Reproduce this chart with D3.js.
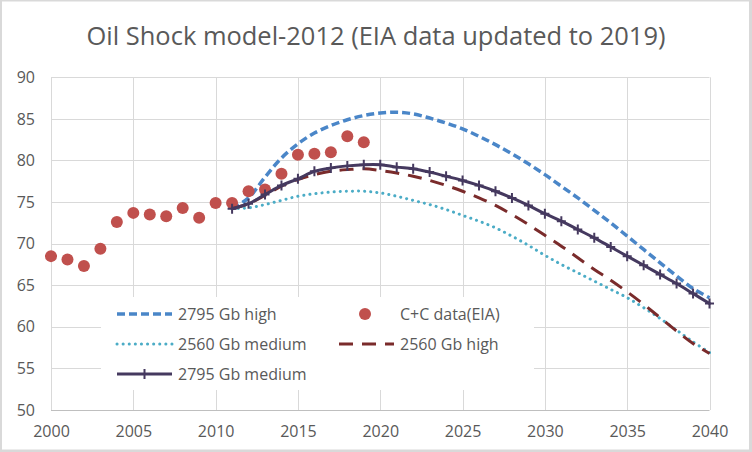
<!DOCTYPE html>
<html><head><meta charset="utf-8">
<script src="https://cdn.jsdelivr.net/npm/d3@7"></script>
<style>body{margin:0;background:#fff}svg{display:block}text{font-family:"Open Sans",sans-serif;fill:#595959}</style>
</head><body>
<svg id="c" width="752" height="452"></svg>
<script>
const title = "Oil Shock model-2012 (EIA data updated to 2019)";
const xTicks = [2000, 2005, 2010, 2015, 2020, 2025, 2030, 2035, 2040];
const yTicks = [50, 55, 60, 65, 70, 75, 80, 85, 90];
const dataYears = [2000,2001,2002,2003,2004,2005,2006,2007,2008,2009,2010,2011,2012,2013,2014,2015,2016,2017,2018,2019];
const ccData = [68.5,68.1,67.3,69.4,72.6,73.7,73.5,73.3,74.3,73.1,74.9,74.9,76.3,76.5,78.4,80.7,80.8,81.0,82.9,82.2];
const modelYears = [2011,2012,2013,2014,2015,2016,2017,2018,2019,2020,2021,2022,2023,2024,2025,2026,2027,2028,2029,2030,2031,2032,2033,2034,2035,2036,2037,2038,2039,2040];
const high2795 = [74.2,75.5,78.0,80.3,82.0,83.3,84.2,84.9,85.4,85.7,85.8,85.6,85.1,84.5,83.8,82.9,81.9,80.8,79.6,78.3,76.9,75.5,74.0,72.5,70.9,69.3,67.7,66.1,64.6,63.5];
const medium2560 = [74.2,74.3,74.7,75.2,75.7,76.0,76.2,76.3,76.3,76.1,75.7,75.2,74.7,74.1,73.4,72.7,71.9,70.9,69.8,68.6,67.5,66.5,65.5,64.5,63.5,62.3,61.0,59.6,58.2,56.9];
const high2560 = [74.2,74.8,75.8,76.9,77.7,78.3,78.7,78.9,79.0,78.8,78.5,78.1,77.6,77.0,76.3,75.5,74.6,73.5,72.3,71.0,69.7,68.3,66.9,65.6,64.2,62.7,61.1,59.5,58.0,56.8];
const medium2795 = [74.2,74.8,75.9,77.0,77.8,78.7,79.1,79.35,79.5,79.5,79.2,79.0,78.6,78.1,77.6,77.0,76.3,75.5,74.6,73.6,72.7,71.7,70.7,69.6,68.5,67.4,66.3,65.2,64.0,62.8];
const seriesNames = ["2795 Gb high", "C+C data(EIA)", "2560 Gb medium", "2560 Gb high", "2795 Gb medium"];

const svg = d3.select("#c");
svg.append("rect").attr("width",752).attr("height",452).attr("fill","#d9d9d9");
svg.append("rect").attr("x",2).attr("y",1.5).attr("width",747).attr("height",448).attr("fill","#fff");

const x = d3.scaleLinear().domain([2000,2040]).range([51,709.5]);
const y = d3.scaleLinear().domain([50,90]).range([410,77.3]);

svg.append("text").attr("x",376).attr("y",45).attr("text-anchor","middle")
  .attr("font-size",25).attr("textLength",579).attr("lengthAdjust","spacingAndGlyphs").text(title);

// gridlines
const grid = svg.append("g");
grid.selectAll("line.h").data(yTicks.filter(d=>d>50)).join("line")
  .attr("x1",x(2000)).attr("x2",x(2040)).attr("y1",d=>Math.round(y(d))+0.5).attr("y2",d=>Math.round(y(d))+0.5)
  .attr("stroke","#d9d9d9").attr("stroke-width",1);
grid.selectAll("line.v").data(xTicks).join("line")
  .attr("y1",y(90)).attr("y2",y(50)).attr("x1",d=>Math.round(x(d))+0.5).attr("x2",d=>Math.round(x(d))+0.5)
  .attr("stroke","#d9d9d9").attr("stroke-width",1);
svg.append("line").attr("x1",x(2000)).attr("x2",x(2040)).attr("y1",Math.round(y(50))+0.5).attr("y2",Math.round(y(50))+0.5)
  .attr("stroke","#bfbfbf").attr("stroke-width",1);

// axes via d3 axes
const yAxis = svg.append("g").attr("transform",`translate(${x(2000)},0)`)
  .call(d3.axisLeft(y).tickValues(yTicks).tickSize(0).tickPadding(16));
yAxis.select(".domain").remove();
yAxis.selectAll("text").attr("font-size",16).attr("fill","#595959").style("font-family","'Open Sans',sans-serif");
const xAxis = svg.append("g").attr("transform",`translate(0,${y(50)})`)
  .call(d3.axisBottom(x).tickValues(xTicks).tickFormat(d3.format("d")).tickSize(0).tickPadding(16));
xAxis.select(".domain").remove();
xAxis.selectAll("text").attr("font-size",16).attr("fill","#595959").style("font-family","'Open Sans',sans-serif");

const styles = {
  blue:{c:"#4a86c8",w:3.5,dash:"8,4",cap:"butt"},
  teal:{c:"#4bacc6",w:3,dash:"0.1,6",cap:"round"},
  red:{c:"#7a2b2b",w:3,dash:"14,9",cap:"butt"},
  purple:{c:"#45395f",w:3,dash:null,cap:"round"}
};
const line = d3.line().x(d=>x(d[0])).y(d=>y(d[1])).curve(d3.curveCatmullRom.alpha(0.5));
function drawLine(vals, st){
  svg.append("path").datum(modelYears.map((yr,i)=>[yr,vals[i]]))
    .attr("d",line).attr("fill","none").attr("stroke",st.c).attr("stroke-width",st.w)
    .attr("stroke-dasharray",st.dash).attr("stroke-linecap",st.cap).attr("stroke-linejoin","round");
}
const dotColor = "#c0504d";
drawLine(high2795, styles.blue);
svg.append("g").selectAll("circle").data(dataYears.map((yr,i)=>[yr,ccData[i]])).join("circle")
  .attr("cx",d=>x(d[0])).attr("cy",d=>y(d[1])).attr("r",6).attr("fill",dotColor);
drawLine(medium2560, styles.teal);
drawLine(high2560, styles.red);
drawLine(medium2795, styles.purple);
svg.append("g").selectAll("path").data(modelYears.map((yr,i)=>[yr,medium2795[i]])).join("path")
  .attr("d",d=>`M${x(d[0])-4.5},${y(d[1])}h9M${x(d[0])},${y(d[1])-5}v10`)
  .attr("stroke",styles.purple.c).attr("stroke-width",2).attr("fill","none");

// legend
const lg = svg.append("g");
lg.append("rect").attr("x",101).attr("y",297).attr("width",433).attr("height",93).attr("fill","#fff");
const legendItems = [
  {name:seriesNames[0], st:styles.blue, sx:117, tx:178, ly:314},
  {name:seriesNames[1], dot:true, sx:339, tx:400, ly:314},
  {name:seriesNames[2], st:styles.teal, sx:117, tx:178, ly:344},
  {name:seriesNames[3], st:styles.red, sx:339, tx:400, ly:344},
  {name:seriesNames[4], st:styles.purple, marker:true, sx:117, tx:178, ly:374}
];
legendItems.forEach(it=>{
  if(it.dot){
    lg.append("circle").attr("cx",it.sx+26).attr("cy",it.ly).attr("r",6).attr("fill",dotColor);
  } else {
    lg.append("line").attr("x1",it.sx).attr("x2",it.sx+55).attr("y1",it.ly).attr("y2",it.ly)
      .attr("stroke",it.st.c).attr("stroke-width",it.st.w).attr("stroke-dasharray",it.st.dash).attr("stroke-linecap",it.st.cap==="round"&&it.st.dash?"round":"butt");
  }
  if(it.marker){
    lg.append("path").attr("d",`M${it.sx+23},${it.ly}h9M${it.sx+27.5},${it.ly-5}v10`).attr("stroke",it.st.c).attr("stroke-width",2);
  }
  lg.append("text").attr("x",it.tx).attr("y",it.ly).attr("dy","0.35em").attr("font-size",16).text(it.name);
});
</script>
</body></html>
